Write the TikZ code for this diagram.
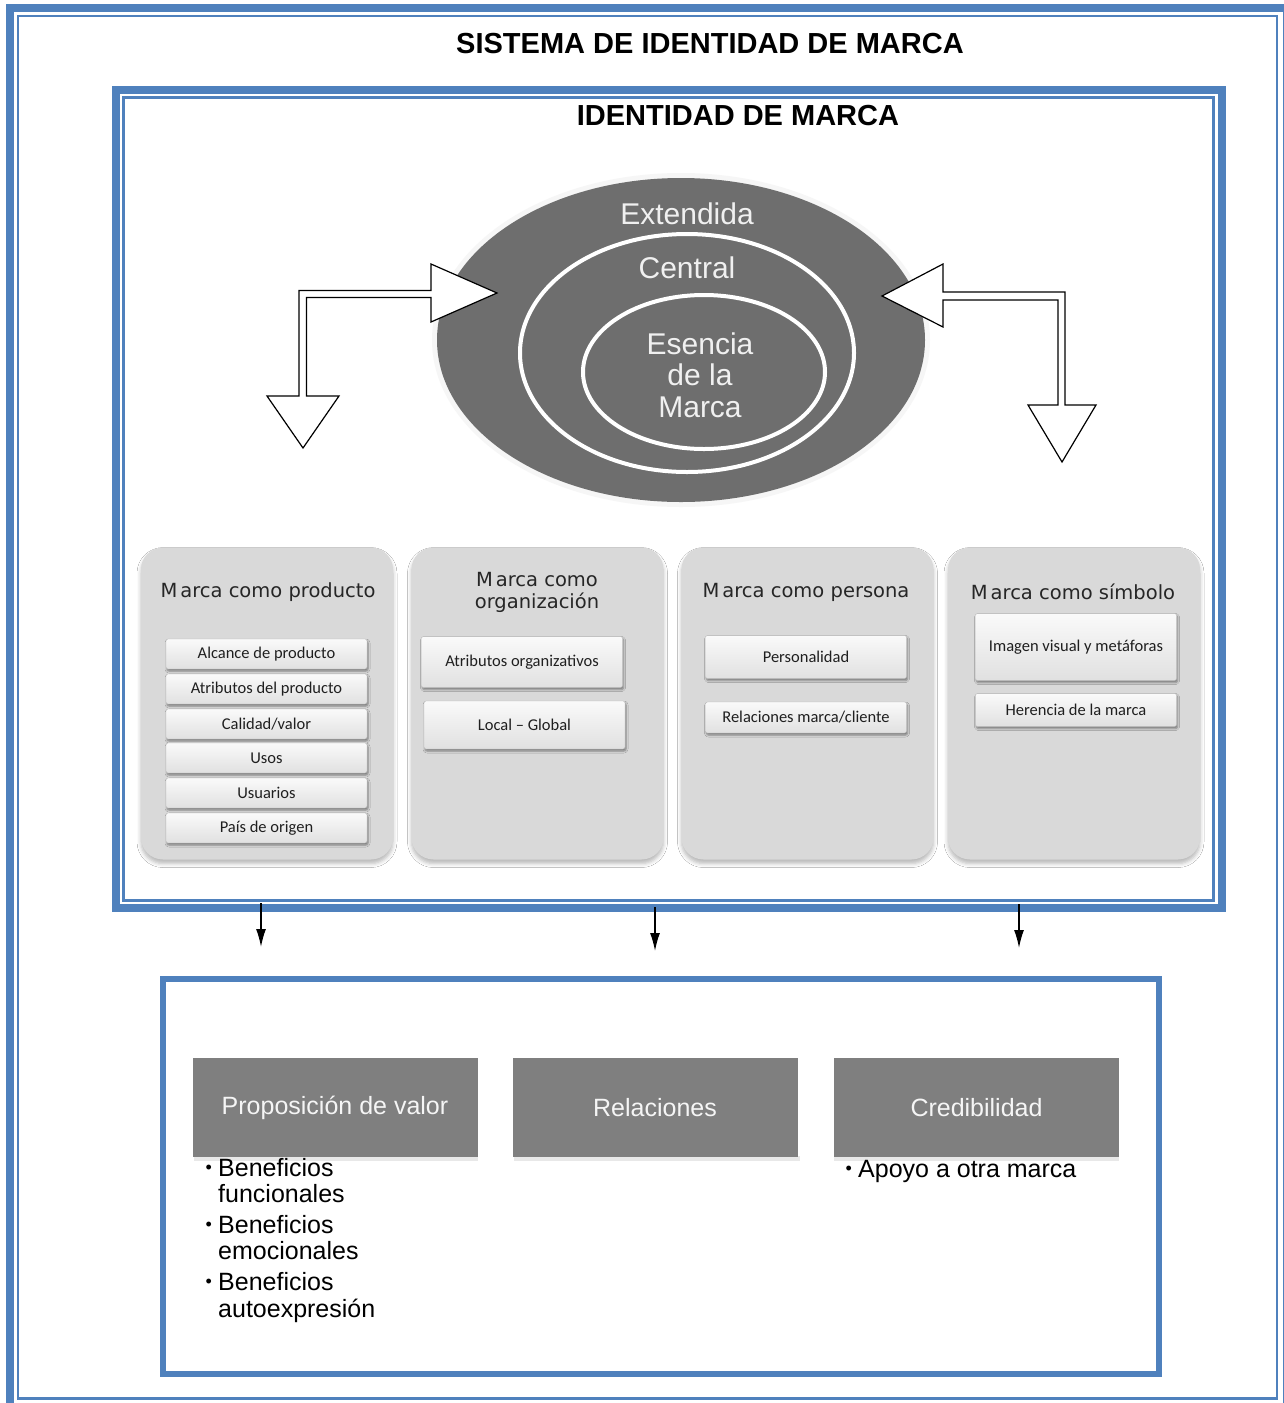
\documentclass[tikz,border=0pt]{standalone}
\usepackage{fontspec}
\setmainfont{Liberation Sans}
\newfontfamily\headfont{DejaVu Sans}
\newfontfamily\btnfont{Carlito}
\usetikzlibrary{arrows.meta,shadows.blur}
\definecolor{frameblue}{HTML}{4F81BD}
\definecolor{coredark}{HTML}{6E6E6E}
\definecolor{panelgray}{HTML}{D9D9D9}
\definecolor{headgray}{HTML}{7F7F7F}

\newcommand{\smallbullet}{\makebox[13pt][l]{\hspace*{0.5pt}\raisebox{2.5pt}{\fontsize{18}{18}\selectfont•}}}

\tikzset{
  thickframe/.style={draw=frameblue, line width=8pt},
  thinframe/.style={draw=frameblue, line width=2.5pt},
  heading/.style={font=\bfseries\fontsize{29}{34}\selectfont, inner sep=0},
  ringtext/.style={text=gray!12, font=\fontsize{30}{31.5}\selectfont, inner sep=0, align=center},
  ring/.style={draw=white, line width=4pt},
  hollowarrow/.style={draw=black, fill=white, line width=1.2pt, line join=miter},
  panel/.style={fill=panelgray, rounded corners=22pt, minimum width=252pt,
    minimum height=312pt, inner sep=0,
    blur shadow={shadow xshift=0pt, shadow yshift=-4pt, shadow blur radius=4pt, shadow opacity=28}},
  paneltitle/.style={font=\headfont\fontsize{19.5}{22}\selectfont, text=black!85,
    inner sep=0, align=center},
  btn/.style={draw=gray!55, top color=gray!4, bottom color=gray!24, rounded corners=2pt,
    minimum width=201pt, inner sep=0, font=\btnfont\fontsize{16.5}{18}\selectfont,
    text=black!88,
    blur shadow={shadow xshift=1pt, shadow yshift=-2pt, shadow blur radius=2pt, shadow opacity=45}},
  valuehead/.style={fill=headgray, minimum width=285pt, minimum height=99pt, inner sep=0,
    text=gray!8, font=\fontsize{25}{27}\selectfont},
  bullettext/.style={anchor=base west, inner sep=0, font=\fontsize{25}{27}\selectfont},
  downarrow/.style={line width=1.5pt, -{Latex[length=18pt,width=10pt]}},
}

\begin{document}
\begin{tikzpicture}[x=1pt,y=-1pt]
\useasboundingbox (0,0) rectangle (1284,1403);
\fill[white] (0,0) rectangle (1284,1403);

% outer frame of the whole system
\draw[thickframe] (10,8) rectangle (1287,1409);
\draw[thinframe] (18,16.2) rectangle (1277,1398.5);
\node[heading] (systitle) at (710,44) {SISTEMA DE IDENTIDAD DE MARCA};

% brand identity frame
\draw[thickframe] (116,90) rectangle (1222,908);
\draw[thinframe] (123.5,97.5) rectangle (1213.5,900.5);
\node[heading] (idtitle) at (738,116) {IDENTIDAD DE MARCA};

% nested identity ellipses
\fill[gray!7] (681,340) ellipse [x radius=249pt, y radius=167pt];
\fill[coredark] (681,340) ellipse [x radius=244pt, y radius=162pt];
\draw[ring] (687,353) ellipse [x radius=167pt, y radius=119pt];
\draw[ring] (704,372) ellipse [x radius=121pt, y radius=77pt];
\node[ringtext] (ext) at (687,214) {Extendida};
\node[ringtext] (cen) at (687,268) {Central};
\node[ringtext] (ess) at (700,375) {Esencia\\de la\\Marca};

% hollow bent arrows
\draw[hollowarrow] (497,293) -- (431,264) -- (431,290.5) -- (299,290.5) -- (299,396)
  -- (267,396) -- (303,448) -- (339,396) -- (306.5,396) -- (306.5,297.5)
  -- (431,297.5) -- (431,322) -- cycle;
\draw[hollowarrow] (882,296) -- (943,264) -- (943,292) -- (1065,292) -- (1065,405)
  -- (1096,405) -- (1062,462) -- (1028,405) -- (1058,405) -- (1058,300)
  -- (943,300) -- (943,327) -- cycle;

% four perspective panels
\node[panel] (pprod) at (267,703.5) {};
\node[panel] (porg)  at (537.5,703.5) {};
\node[panel] (ppers) at (807.5,703.5) {};
\node[panel] (psym)  at (1074,703.5) {};

\node[paneltitle] (tprod) at (268,592) {M\kern3pt arca como producto};
\node[paneltitle] (torg)  at (537,592) {M\kern3pt arca como\\organización};
\node[paneltitle] (tpers) at (806,592) {M\kern3pt arca como persona};
\node[paneltitle] (tsym)  at (1073,592) {M\kern3pt arca como símbolo};

% product items
\node[btn, minimum height=30pt] (b1) at (266.5,654) {Alcance de producto};
\node[btn, minimum height=30pt] (b2) at (266.5,689) {Atributos del producto};
\node[btn, minimum height=30pt] (b3) at (266.5,724) {Calidad/valor};
\node[btn, minimum height=30pt] (b4) at (266.5,758) {Usos};
\node[btn, minimum height=30pt] (b5) at (266.5,793) {Usuarios};
\node[btn, minimum height=30pt] (b6) at (266.5,828) {País de origen};

% organization items
\node[btn, minimum height=51pt] (o1) at (522,662) {Atributos organizativos};
\node[btn, minimum height=48pt] (o2) at (524.5,725) {Local – Global};

% person items
\node[btn, minimum height=43pt] (r1) at (806,657) {Personalidad};
\node[btn, minimum height=31pt] (r2) at (806,717.5) {Relaciones marca/cliente};

% symbol items
\node[btn, minimum height=67pt] (s1) at (1076,647) {Imagen visual y metáforas};
\node[btn, minimum height=33pt] (s2) at (1076,710) {Herencia de la marca};

% links from identity to value proposition
\coordinate (a1s) at (261,903);  \coordinate (a1e) at (261,947);
\coordinate (a2s) at (655,907);  \coordinate (a2e) at (655,951);
\coordinate (a3s) at (1019,904); \coordinate (a3e) at (1019,948);
\draw[downarrow] (a1s) -- (a1e);
\draw[downarrow] (a2s) -- (a2e);
\draw[downarrow] (a3s) -- (a3e);

% value proposition frame
\draw[draw=frameblue, line width=6.5pt] (163,979) rectangle (1159,1374);

\fill[gray!18] (194,1156) rectangle (478,1161);
\fill[gray!18] (514,1156) rectangle (800,1161);
\fill[gray!18] (834,1156) rectangle (1119,1161);
\node[valuehead] (hval) at (335,1107.5) {Proposición de valor};
\node[valuehead] (hrel) at (655,1107.5) {Relaciones};
\node[valuehead] (hcred) at (976.5,1107.5) {Credibilidad};

\node[bullettext] (v1a) at (205,1176) {\smallbullet Beneficios};
\node[bullettext] (v1b) at (218,1202) {funcionales};
\node[bullettext] (v2a) at (205,1233) {\smallbullet Beneficios};
\node[bullettext] (v2b) at (218,1259) {emocionales};
\node[bullettext] (v3a) at (205,1290) {\smallbullet Beneficios};
\node[bullettext] (v3b) at (218,1317) {autoexpresión};
\node[bullettext] (c1)  at (845,1177) {\smallbullet Apoyo a otra marca};
\end{tikzpicture}
\end{document}
